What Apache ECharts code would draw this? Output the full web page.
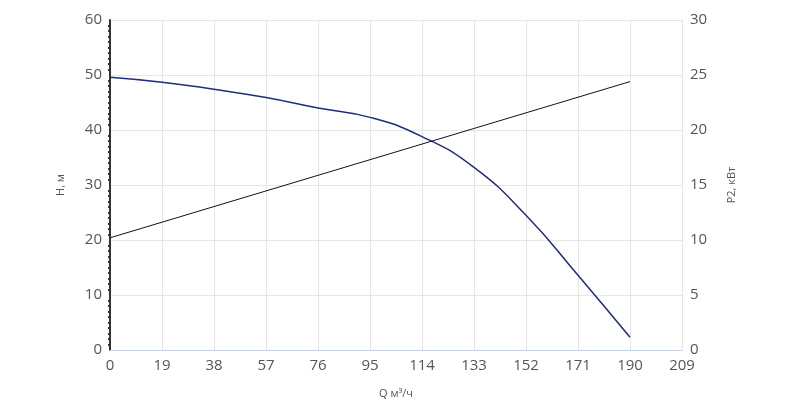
<!DOCTYPE html><html><head><meta charset="utf-8"><script src="https://cdn.jsdelivr.net/npm/echarts@6/dist/echarts.min.js"></script></head><body style="margin:0"><div id="c" style="width:800px;height:408px"></div><script>
const qValues=[0,19,38,57,76,95,114,133,152,171,190];
const hValues=[49.6,48.7,47.4,45.9,44.0,42.3,38.8,33.2,24.5,13.6,2.3];
const pValues=[[0,10.2],[190,24.4]];
const c=echarts.init(document.getElementById('c'));
const ax={color:'#555',fontFamily:'Open Sans',fontSize:15};
c.setOption({animation:false,
grid:{left:110,right:118,top:20,bottom:58},
xAxis:{type:'value',min:0,max:209,interval:19,name:'Q м³/ч',nameLocation:'middle',nameGap:38,nameTextStyle:{color:'#555',fontSize:11,fontFamily:'Open Sans'},
axisLabel:ax,axisLine:{lineStyle:{color:'#c8d4e6'}},axisTick:{show:false},splitLine:{lineStyle:{color:'#e6e6e6'}}},
yAxis:[{type:'value',min:0,max:60,interval:10,name:'H, м',nameLocation:'middle',nameGap:44,nameTextStyle:{color:'#555',fontSize:11,fontFamily:'Open Sans'},
axisLabel:ax,axisLine:{show:true,lineStyle:{color:'#333',width:2}},axisTick:{show:false},minorTick:{show:true,splitNumber:10,length:2,lineStyle:{color:'#333',width:2}},splitLine:{lineStyle:{color:'#e6e6e6'}}},
{type:'value',min:0,max:30,interval:5,name:'P2, кВт',nameLocation:'middle',nameGap:44,nameTextStyle:{color:'#555',fontSize:11,fontFamily:'Open Sans'},
axisLabel:ax,axisLine:{show:false},axisTick:{show:false},splitLine:{show:false}}],
series:[{type:'line',smooth:true,symbol:'none',data:qValues.map((q,i)=>[q,hValues[i]]),lineStyle:{color:'#1f2d7a',width:1.5}},
{type:'line',yAxisIndex:1,symbol:'none',data:pValues,lineStyle:{color:'#111',width:1}}]});
</script></body></html>
